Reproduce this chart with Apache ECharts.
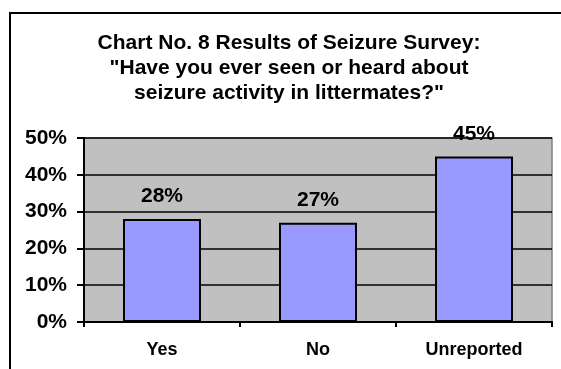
<!DOCTYPE html>
<html><head><meta charset="utf-8">
<script src="https://cdn.jsdelivr.net/npm/echarts@6/dist/echarts.min.js"></script>
<style>html,body{margin:0;padding:0;background:#fff}#c{width:561px;height:369px}</style>
</head><body><div id="c"></div>
<script>
var categories = ['Yes', 'No', 'Unreported'];
var values = [28, 27, 45];
var titleLines = ['Chart No. 8 Results of Seizure Survey:', '"Have you ever seen or heard about', 'seizure activity in littermates?"'];

var chart = echarts.init(document.getElementById('c'), null, {renderer: 'canvas'});
chart.setOption({
  animation: false,
  backgroundColor: '#fff',
  textStyle: {fontFamily: 'Liberation Sans, Arial, sans-serif'},
  title: {
    text: titleLines.join('\n'),
    left: 284, top: 26, textAlign: 'center',
    textStyle: {fontSize: 21, fontWeight: 'bold', color: '#000', lineHeight: 25, fontFamily: 'Liberation Sans, Arial, sans-serif'}
  },
  graphic: [{
    type: 'rect', shape: {x: 10, y: 13, width: 620, height: 420},
    style: {fill: 'none', stroke: '#000', lineWidth: 2}, z: 100, silent: true
  }],
  grid: {left: 84, right: 9, top: 138, bottom: 47, show: true, backgroundColor: '#C0C0C0', borderColor: '#808080', borderWidth: 1.5},
  xAxis: {
    type: 'category', data: categories, boundaryGap: true,
    axisLine: {lineStyle: {color: '#000', width: 2}},
    axisTick: {show: true, length: 5, lineStyle: {color: '#000', width: 2}},
    axisLabel: {color: '#000', fontSize: 18, fontWeight: 'bold', margin: 19}
  },
  yAxis: {
    type: 'value', min: 0, max: 50, interval: 10,
    axisLine: {show: true, lineStyle: {color: '#000', width: 2}},
    axisTick: {show: true, length: 7, lineStyle: {color: '#000', width: 2}},
    axisLabel: {color: '#000', fontSize: 21, fontWeight: 'bold', formatter: '{value}%', margin: 17},
    splitLine: {show: true, lineStyle: {color: '#000', width: 1.5}}
  },
  series: [{
    type: 'bar', data: values, barWidth: '50%',
    itemStyle: {color: '#9999FF', borderColor: '#000', borderWidth: 2},
    label: {show: true, position: 'top', distance: 12, formatter: '{c}%', color: '#000', fontSize: 21, fontWeight: 'bold'}
  }]
});
</script></body></html>
